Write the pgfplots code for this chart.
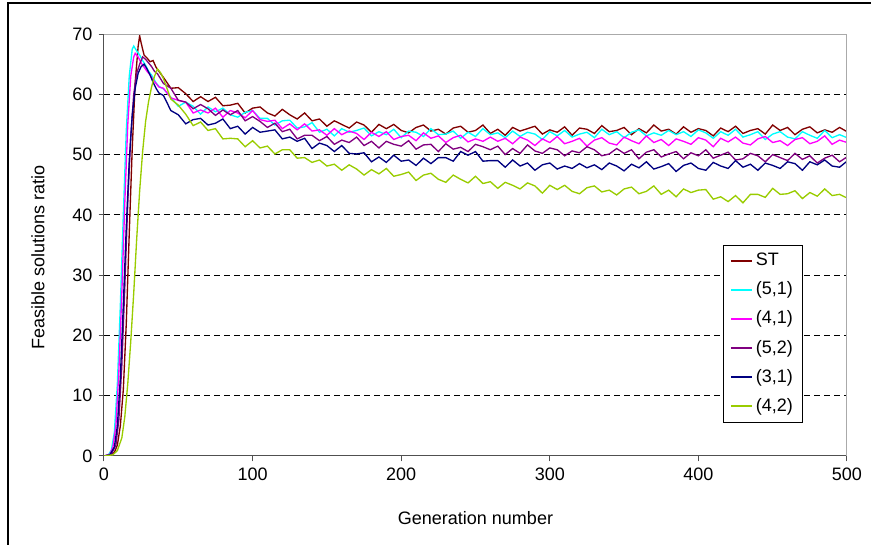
\documentclass[border=0pt]{standalone}
\usepackage{fontspec}
\setmainfont{Liberation Sans}
\usepackage{pgfplots}
\usepackage{pgfplotstable}
\pgfplotsset{compat=1.18}
\definecolor{cST}{RGB}{128,0,0}
\definecolor{cFiveOne}{RGB}{0,255,255}
\definecolor{cFourOne}{RGB}{255,0,255}
\definecolor{cFiveTwo}{RGB}{128,0,128}
\definecolor{cThreeOne}{RGB}{0,0,128}
\definecolor{cFourTwo}{RGB}{153,204,0}
\definecolor{axisgray}{RGB}{80,80,80}
\definecolor{framegray}{RGB}{170,170,170}

\pgfplotstableread[row sep=\\]{
x y\\
0 0\\ 4 0.1\\ 7 0.6\\ 9 1.8\\ 11 5\\ 13 11\\ 15 22\\ 17 37\\ 19 51\\ 21 62\\ 23 68\\ 24 69.7\\ 25 68.5\\ 27 66.5\\ 29 66\\ 31 65.4\\ 33 65.6\\ 35 64.5\\ 37 63.8\\
40 62.8\\ 45 61.0\\ 50 61.1\\ 55 60.1\\ 60 58.8\\ 65 59.6\\ 70 58.8\\ 75 59.5\\ 80 58.1\\ 85 58.2\\
90 58.5\\ 95 56.9\\ 100 57.7\\ 105 57.9\\ 110 56.9\\ 115 56.4\\ 120 57.5\\ 125 56.6\\ 130 55.9\\ 135 56.9\\
140 55.6\\ 145 55.9\\ 150 54.7\\ 155 55.6\\ 160 55.0\\ 165 54.4\\ 170 55.4\\ 175 54.9\\ 180 53.7\\ 185 55.0\\
190 54.3\\ 195 55.0\\ 200 54.0\\ 205 53.6\\ 210 54.5\\ 215 54.9\\ 220 53.9\\ 225 54.2\\ 230 53.4\\ 235 54.4\\
240 54.7\\ 245 53.7\\ 250 54.0\\ 255 54.9\\ 260 53.5\\ 265 54.2\\ 270 53.2\\ 275 54.5\\ 280 53.9\\ 285 54.3\\
290 54.7\\ 295 53.4\\ 300 54.1\\ 305 53.7\\ 310 54.6\\ 315 53.2\\ 320 54.4\\ 325 54.2\\ 330 53.5\\ 335 54.8\\
340 53.8\\ 345 54.0\\ 350 54.5\\ 355 53.3\\ 360 54.3\\ 365 53.6\\ 370 54.9\\ 375 53.9\\ 380 54.2\\ 385 53.4\\
390 54.6\\ 395 53.7\\ 400 54.3\\ 405 54.0\\ 410 53.1\\ 415 54.4\\ 420 53.8\\ 425 54.7\\ 430 53.5\\ 435 54.0\\
440 54.3\\ 445 53.4\\ 450 54.9\\ 455 54.0\\ 460 54.5\\ 465 53.3\\ 470 54.2\\ 475 54.6\\ 480 53.6\\ 485 54.1\\
490 53.7\\ 495 54.5\\ 500 53.8\\
}\tblST

\pgfplotstableread[row sep=\\]{
x y\\
0 0\\ 3 0.2\\ 5 1\\ 7 4\\ 9 12\\ 11 25\\ 13 40\\ 15 54\\ 17 63\\ 19 67.5\\ 20 68\\ 22 67.2\\ 24 66.5\\ 26 65.6\\ 28 64.8\\ 30 63.8\\ 32 63.2\\ 35 61.9\\ 37 61.3\\
40 60.9\\ 45 59.5\\ 50 58.0\\ 55 58.7\\ 60 58.0\\ 65 56.7\\ 70 57.9\\ 75 57.1\\ 80 57.7\\ 85 56.6\\
90 56.2\\ 95 57.0\\ 100 57.3\\ 105 56.0\\ 110 56.0\\ 115 54.9\\ 120 55.6\\ 125 55.7\\ 130 54.4\\ 135 54.6\\
140 55.3\\ 145 53.7\\ 150 54.2\\ 155 53.1\\ 160 54.3\\ 165 53.7\\ 170 54.0\\ 175 54.4\\ 180 53.1\\ 185 53.8\\
190 53.3\\ 195 54.2\\ 200 52.8\\ 205 53.9\\ 210 53.7\\ 215 53.0\\ 220 54.3\\ 225 53.3\\ 230 53.4\\ 235 53.9\\
240 52.7\\ 245 53.7\\ 250 53.0\\ 255 54.3\\ 260 53.3\\ 265 53.6\\ 270 52.8\\ 275 53.9\\ 280 53.0\\ 285 53.7\\
290 53.4\\ 295 52.5\\ 300 53.8\\ 305 53.1\\ 310 54.0\\ 315 52.9\\ 320 53.4\\ 325 53.7\\ 330 52.8\\ 335 54.2\\
340 53.3\\ 345 53.8\\ 350 52.8\\ 355 53.7\\ 360 54.1\\ 365 53.1\\ 370 53.6\\ 375 53.2\\ 380 54.0\\ 385 53.3\\
390 53.8\\ 395 53.0\\ 400 54.1\\ 405 53.6\\ 410 52.7\\ 415 53.8\\ 420 53.2\\ 425 54.2\\ 430 52.9\\ 435 53.3\\
440 53.8\\ 445 52.5\\ 450 53.4\\ 455 53.8\\ 460 52.9\\ 465 52.6\\ 470 53.8\\ 475 53.2\\ 480 52.7\\ 485 54.0\\
490 52.8\\ 495 53.3\\ 500 52.8\\
}\tblFiveOne

\pgfplotstableread[row sep=\\]{
x y\\
0 0\\ 4 0.3\\ 6 1.5\\ 8 5\\ 10 14\\ 12 27\\ 14 42\\ 16 55\\ 18 63\\ 20 66.2\\ 21 66.8\\ 23 66.2\\ 25 65.2\\ 27 64.5\\ 29 63.8\\ 31 63.2\\ 33 62.4\\ 35 61.8\\ 37 61.2\\
40 61.0\\ 45 59.4\\ 50 59.0\\ 55 58.7\\ 60 56.9\\ 65 57.4\\ 70 56.9\\ 75 57.7\\ 80 56.2\\ 85 57.3\\
90 56.9\\ 95 56.1\\ 100 57.3\\ 105 55.8\\ 110 55.5\\ 115 55.7\\ 120 54.3\\ 125 55.1\\ 130 54.1\\ 135 55.1\\
140 53.9\\ 145 54.1\\ 150 53.2\\ 155 54.3\\ 160 53.3\\ 165 53.9\\ 170 53.5\\ 175 52.5\\ 180 53.7\\ 185 53.0\\
190 53.8\\ 195 52.5\\ 200 53.0\\ 205 53.2\\ 210 52.3\\ 215 53.6\\ 220 52.7\\ 225 53.1\\ 230 52.0\\ 235 52.8\\
240 53.2\\ 245 52.1\\ 250 52.6\\ 255 52.2\\ 260 52.9\\ 265 52.2\\ 270 52.7\\ 275 51.8\\ 280 52.9\\ 285 52.4\\
290 51.5\\ 295 52.6\\ 300 52.0\\ 305 53.0\\ 310 51.8\\ 315 52.2\\ 320 52.7\\ 325 51.4\\ 330 52.4\\ 335 52.8\\
340 51.9\\ 345 51.6\\ 350 52.9\\ 355 52.3\\ 360 51.8\\ 365 53.1\\ 370 52.0\\ 375 52.5\\ 380 51.5\\ 385 52.6\\
390 52.2\\ 395 51.7\\ 400 52.8\\ 405 52.4\\ 410 51.3\\ 415 52.7\\ 420 52.1\\ 425 52.9\\ 430 51.9\\ 435 51.6\\
440 52.6\\ 445 53.0\\ 450 52.0\\ 455 52.3\\ 460 51.5\\ 465 52.5\\ 470 52.8\\ 475 51.8\\ 480 52.2\\ 485 53.1\\
490 51.7\\ 495 52.4\\ 500 52.0\\
}\tblFourOne

\pgfplotstableread[row sep=\\]{
x y\\
0 0\\ 5 0.3\\ 8 1.8\\ 10 6\\ 12 15\\ 14 28\\ 16 42\\ 18 53\\ 20 60\\ 22 63.5\\ 24 65\\ 26 66.2\\ 28 65.8\\ 30 65.2\\ 32 64.6\\ 34 63.8\\ 36 63.4\\ 38 62.6\\
40 61.8\\ 45 61.0\\ 50 59.0\\ 55 58.7\\ 60 57.6\\ 65 58.3\\ 70 57.6\\ 75 56.5\\ 80 57.4\\ 85 56.6\\
90 57.3\\ 95 55.6\\ 100 56.3\\ 105 55.5\\ 110 54.5\\ 115 55.2\\ 120 53.8\\ 125 54.2\\ 130 52.6\\ 135 53.2\\
140 53.2\\ 145 52.3\\ 150 53.0\\ 155 51.7\\ 160 52.4\\ 165 52.0\\ 170 52.9\\ 175 51.5\\ 180 52.2\\ 185 51.1\\
190 52.2\\ 195 51.7\\ 200 51.4\\ 205 52.3\\ 210 50.9\\ 215 51.6\\ 220 51.7\\ 225 50.5\\ 230 51.8\\ 235 50.9\\
240 51.2\\ 245 50.5\\ 250 51.7\\ 255 51.3\\ 260 50.8\\ 265 51.4\\ 270 50.0\\ 275 51.0\\ 280 50.2\\ 285 51.6\\
290 50.6\\ 295 50.2\\ 300 51.1\\ 305 50.8\\ 310 49.8\\ 315 50.6\\ 320 50.3\\ 325 51.3\\ 330 50.8\\ 335 49.8\\
340 50.1\\ 345 51.0\\ 350 50.2\\ 355 50.8\\ 360 49.3\\ 365 50.4\\ 370 50.8\\ 375 49.6\\ 380 50.1\\ 385 50.5\\
390 49.3\\ 395 50.3\\ 400 49.8\\ 405 50.8\\ 410 49.4\\ 415 49.9\\ 420 50.4\\ 425 49.1\\ 430 49.3\\ 435 50.2\\
440 49.8\\ 445 48.8\\ 450 50.0\\ 455 49.5\\ 460 49.0\\ 465 50.2\\ 470 49.2\\ 475 49.8\\ 480 48.6\\ 485 49.4\\
490 49.9\\ 495 48.8\\ 500 49.6\\
}\tblFiveTwo

\pgfplotstableread[row sep=\\]{
x y\\
0 0\\ 4 0.2\\ 7 1.5\\ 9 5\\ 11 13\\ 13 25\\ 15 38\\ 17 49\\ 19 56.5\\ 21 61\\ 23 63.5\\ 25 64.6\\ 27 65.0\\ 29 64.2\\ 31 63.2\\ 33 62.0\\ 35 61.0\\ 37 60.2\\
40 59.8\\ 45 57.3\\ 50 56.6\\ 55 55.1\\ 60 55.8\\ 65 56.0\\ 70 54.9\\ 75 55.2\\ 80 55.9\\ 85 54.3\\
90 54.7\\ 95 53.4\\ 100 54.5\\ 105 53.7\\ 110 53.9\\ 115 54.1\\ 120 52.6\\ 125 52.9\\ 130 52.2\\ 135 52.7\\
140 51.0\\ 145 51.9\\ 150 51.5\\ 155 50.5\\ 160 51.5\\ 165 50.2\\ 170 50.1\\ 175 50.3\\ 180 48.8\\ 185 49.6\\
190 48.7\\ 195 49.9\\ 200 48.9\\ 205 49.1\\ 210 48.2\\ 215 49.4\\ 220 48.5\\ 225 49.5\\ 230 49.5\\ 235 48.9\\
240 50.5\\ 245 49.9\\ 250 50.5\\ 255 48.9\\ 260 49.0\\ 265 49.0\\ 270 47.9\\ 275 49.1\\ 280 48.1\\ 285 48.6\\
290 47.4\\ 295 48.3\\ 300 48.6\\ 305 47.6\\ 310 48.1\\ 315 47.7\\ 320 48.5\\ 325 47.8\\ 330 48.3\\ 335 47.5\\
340 48.6\\ 345 48.1\\ 350 47.3\\ 355 48.4\\ 360 47.8\\ 365 48.8\\ 370 47.6\\ 375 48.0\\ 380 48.5\\ 385 47.2\\
390 48.2\\ 395 48.6\\ 400 47.7\\ 405 47.4\\ 410 48.7\\ 415 48.1\\ 420 47.7\\ 425 49.0\\ 430 47.9\\ 435 48.4\\
440 47.4\\ 445 48.6\\ 450 48.2\\ 455 47.7\\ 460 48.8\\ 465 48.5\\ 470 47.4\\ 475 48.8\\ 480 48.3\\ 485 49.1\\
490 48.1\\ 495 47.9\\ 500 48.9\\
}\tblThreeOne

\pgfplotstableread[row sep=\\]{
x y\\
0 0\\ 6 0.2\\ 9 0.9\\ 12 3\\ 14 6.5\\ 16 12\\ 18 19\\ 20 27\\ 22 36\\ 24 44\\ 26 50.5\\ 28 55.5\\ 30 58.8\\ 32 61.2\\ 34 63\\ 36 64.2\\ 38 63.6\\
40 62.6\\ 45 59.2\\ 50 58.2\\ 55 56.7\\ 60 54.8\\ 65 55.4\\ 70 54.0\\ 75 54.3\\ 80 52.6\\ 85 52.7\\
90 52.6\\ 95 51.3\\ 100 52.3\\ 105 51.1\\ 110 51.4\\ 115 50.1\\ 120 50.8\\ 125 50.8\\ 130 49.4\\ 135 49.5\\
140 48.7\\ 145 49.1\\ 150 48.1\\ 155 48.4\\ 160 47.4\\ 165 48.3\\ 170 47.6\\ 175 46.6\\ 180 47.5\\ 185 46.8\\
190 47.7\\ 195 46.4\\ 200 46.7\\ 205 47.1\\ 210 45.7\\ 215 46.6\\ 220 46.9\\ 225 45.9\\ 230 45.4\\ 235 46.6\\
240 45.9\\ 245 45.3\\ 250 46.4\\ 255 45.2\\ 260 45.5\\ 265 44.4\\ 270 45.4\\ 275 44.9\\ 280 44.3\\ 285 45.3\\
290 44.8\\ 295 43.6\\ 300 44.9\\ 305 44.2\\ 310 44.9\\ 315 43.9\\ 320 43.5\\ 325 44.5\\ 330 44.8\\ 335 43.8\\
340 44.1\\ 345 43.3\\ 350 44.3\\ 355 44.6\\ 360 43.5\\ 365 43.9\\ 370 44.8\\ 375 43.4\\ 380 44.1\\ 385 43.0\\
390 44.3\\ 395 43.7\\ 400 44.1\\ 405 44.2\\ 410 42.6\\ 415 43.0\\ 420 42.2\\ 425 43.2\\ 430 42.0\\ 435 43.4\\
440 43.4\\ 445 42.9\\ 450 44.4\\ 455 43.4\\ 460 43.5\\ 465 44.0\\ 470 42.7\\ 475 43.7\\ 480 43.1\\ 485 44.3\\
490 43.2\\ 495 43.4\\ 500 42.8\\
}\tblFourTwo

\begin{document}
\fontsize{13.5}{16}\selectfont
\begin{tikzpicture}
% page = 871 x 545 px, 1 px = 0.75pt; plot area lower left at origin
\useasboundingbox (-78pt,-66.75pt) rectangle (575.25pt,342pt);
\begin{axis}[
  at={(0,0)}, anchor=south west,
  scale only axis,
  width=557.25pt, height=316.5pt,
  xmin=0, xmax=500, ymin=0, ymax=70,
  xtick={0,100,...,500}, ytick={0,10,...,70},
  axis x line*=bottom, axis y line*=left,
  axis line style={draw=axisgray, line width=0.75pt, -},
  tick style={draw=axisgray, line width=0.75pt},
  tick align=outside, major tick length=4pt,
  ymajorgrids,
  grid style={black, dash pattern=on 4.5pt off 3pt, line width=0.75pt},
  /pgf/number format/assume math mode=true,
  tick label style={font=\fontsize{13.5}{16}\selectfont},
  xlabel={Generation number},
  ylabel={Feasible solutions ratio},
  xlabel style={at={(rel axis cs:0.5,0)}, anchor=center, yshift=-46.5pt},
  ylabel style={at={(rel axis cs:0,0.47)}, anchor=center, yshift=49.5pt},
  label style={font=\fontsize{13.5}{16}\selectfont},
  legend style={at={(rel axis cs:0.833,0.5)}, anchor=north west,
    fill=white, font=\fontsize{13.5}{16}\selectfont, row sep=6pt,
    inner xsep=5pt, inner ysep=4pt},
  legend cell align=left,
  legend image code/.code={\draw[#1, line width=1.5pt] (0pt,0pt) -- (16pt,0pt);},
  clip=true,
]
\addplot[draw=cST, line width=1pt] table {\tblST};
\addlegendentry{ST}
\addplot[draw=cFiveOne, line width=1pt] table {\tblFiveOne};
\addlegendentry{(5,1)}
\addplot[draw=cFourOne, line width=1pt] table {\tblFourOne};
\addlegendentry{(4,1)}
\addplot[draw=cFiveTwo, line width=1pt] table {\tblFiveTwo};
\addlegendentry{(5,2)}
\addplot[draw=cThreeOne, line width=1pt] table {\tblThreeOne};
\addlegendentry{(3,1)}
\addplot[draw=cFourTwo, line width=1pt] table {\tblFourTwo};
\addlegendentry{(4,2)}
\draw[framegray, line width=0.75pt] (rel axis cs:0,1) -- (rel axis cs:1,1) -- (rel axis cs:1,0);
\end{axis}
% outer chart frame (top and left edges visible)
\draw[black, line width=1.5pt] (-72pt,-66.75pt) -- (-72pt,339.75pt) -- (575.25pt,339.75pt);
\end{tikzpicture}
\end{document}
